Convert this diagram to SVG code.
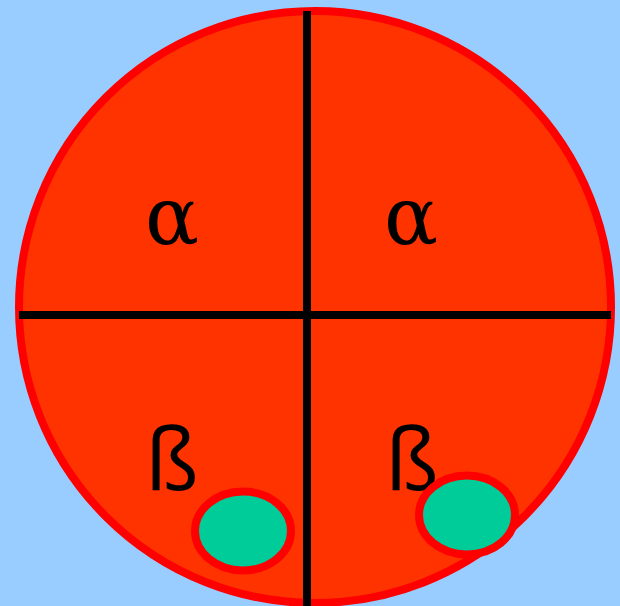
<svg xmlns="http://www.w3.org/2000/svg" width="620" height="606" viewBox="0 0 620 606">
<style>
.a{font-family:"DejaVu Serif",serif;font-size:80px;fill:#000;text-anchor:middle}
.b{font-family:"Open Sans",sans-serif;font-size:86px;fill:#000;text-anchor:middle}
.line{stroke:#000;stroke-width:8;fill:none}
.blob{fill:#00cc99;stroke:#ff0000;stroke-width:8}
</style>
<rect width="620" height="606" fill="#99ccff"/>
<g id="cell">
<circle cx="315" cy="307" r="296" fill="#ff3300" stroke="#ff0000" stroke-width="8"/>
</g>
<g id="connectors">
<line class="line" x1="307" y1="11" x2="307" y2="606"/>
<line class="line" x1="19" y1="315" x2="611" y2="315"/>
</g>
<g id="q1"><text class="a" x="172" y="244">α</text></g>
<g id="q2"><text class="a" x="411" y="244">α</text></g>
<g id="q3"><text class="b" x="172" y="490">ß</text></g>
<g id="q4"><text class="b" x="412" y="490">ß</text></g>
<g id="blob1"><ellipse class="blob" cx="243" cy="531" rx="48" ry="39.5"/></g>
<g id="blob2"><ellipse class="blob" cx="467" cy="515" rx="48" ry="39.5"/></g>
</svg>
